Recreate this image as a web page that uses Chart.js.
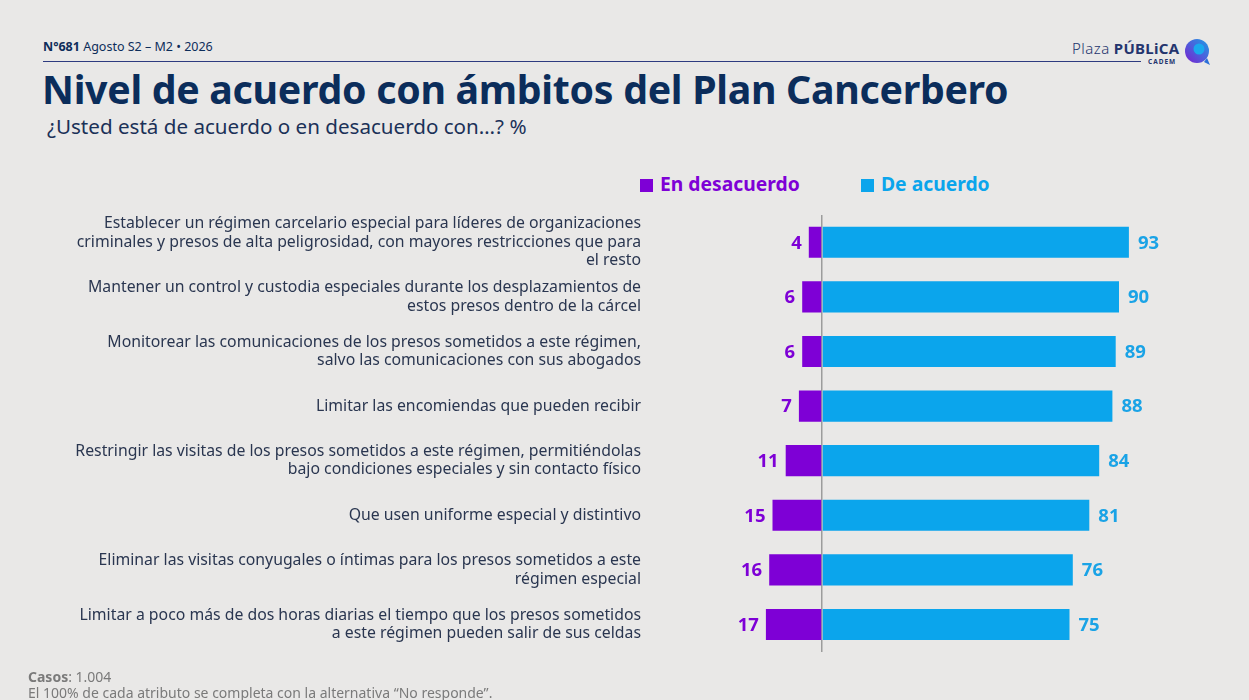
<!DOCTYPE html>
<html>
<head>
<meta charset="utf-8">
<script src="https://cdn.jsdelivr.net/npm/chart.js@4.4.1/dist/chart.umd.min.js"></script>
<style>
  html, body { margin:0; padding:0; }
  body { width:1249px; height:700px; background:#E9E8E7; position:relative; overflow:hidden; font-family:"Noto Sans", sans-serif; color:#0D2D5A; }
  .abs { position:absolute; white-space:nowrap; }
  #hdr { left:43px; top:38px; font-size:12.5px; color:#0D2D5A; }
  #hline { left:43px; top:61px; width:1098px; height:1px; background:#2E3B80; }
  #title { left:42px; top:62px; font-size:39.3px; font-weight:700; color:#0B2D5B; letter-spacing:-0.3px; }
  #sub { left:47px; top:112px; font-size:20.6px; color:#1B3158; }
  .leg { top:170px; font-size:19.3px; font-weight:700; }
  .sq { display:inline-block; width:13px; height:13px; margin-right:7px; vertical-align:-1px; }
  #foot1 { left:28px; top:667px; font-size:14px; color:#7A7A7A; }
  #foot2 { left:28px; top:683px; font-size:14px; color:#7A7A7A; }
  #logo { left:1072px; top:38px; font-size:15px; color:#24356E; }
  #cadem { left:1148px; top:57px; font-size:6.5px; font-weight:700; letter-spacing:1px; color:#24356E; }
  #wrap { position:absolute; left:0; top:200px; width:1249px; height:470px; }
</style>
</head>
<body>
<div class="abs" id="hdr"><b>N°681</b> Agosto S2 – M2 • 2026</div>
<div class="abs" id="hline"></div>
<div class="abs" id="logo"><span style="font-weight:300;letter-spacing:0.5px">Plaza</span> <b style="letter-spacing:0.3px">PÚBLiCA</b></div>
<div class="abs" id="cadem">CADEM</div>
<svg class="abs" style="left:1184px;top:38px" width="28" height="28" viewBox="0 0 28 28">
  <defs><linearGradient id="g" x1="0" y1="1" x2="1" y2="0"><stop offset="0" stop-color="#7B1FD0"/><stop offset="1" stop-color="#1E9FE6"/></linearGradient></defs>
  <circle cx="13" cy="13" r="12" fill="url(#g)"/>
  <path d="M20 24 L26 27 L23 20 Z" fill="#2A6FD8"/>
  <circle cx="15" cy="11" r="5.5" fill="#1AA8EE"/>
</svg>
<div class="abs" id="title">Nivel de acuerdo con ámbitos del Plan Cancerbero</div>
<div class="abs" id="sub">¿Usted está de acuerdo o en desacuerdo con…? %</div>
<div class="abs leg" style="left:640px;color:#7E00D6"><span class="sq" style="background:#7E00D6"></span>En desacuerdo</div>
<div class="abs leg" style="left:861px;color:#0BA5EC"><span class="sq" style="background:#0BA5EC"></span>De acuerdo</div>
<div id="wrap"><canvas id="c"></canvas></div>
<div class="abs" id="foot1"><b>Casos</b>: 1.004</div>
<div class="abs" id="foot2">El 100% de cada atributo se completa con la alternativa “No responde”.</div>
<script>
const categories = [
  ["Establecer un régimen carcelario especial para líderes de organizaciones", "criminales y presos de alta peligrosidad, con mayores restricciones que para", "el resto"],
  ["Mantener un control y custodia especiales durante los desplazamientos de", "estos presos dentro de la cárcel"],
  ["Monitorear las comunicaciones de los presos sometidos a este régimen,", "salvo las comunicaciones con sus abogados"],
  ["Limitar las encomiendas que pueden recibir"],
  ["Restringir las visitas de los presos sometidos a este régimen, permitiéndolas", "bajo condiciones especiales y sin contacto físico"],
  ["Que usen uniforme especial y distintivo"],
  ["Eliminar las visitas conyugales o íntimas para los presos sometidos a este", "régimen especial"],
  ["Limitar a poco más de dos horas diarias el tiempo que los presos sometidos", "a este régimen pueden salir de sus celdas"]
];
const enDesacuerdo = [4, 6, 6, 7, 11, 15, 16, 17];
const deAcuerdo = [93, 90, 89, 88, 84, 81, 76, 75];

const PURPLE = "#7E00D6", BLUE = "#0BA5EC";

const valueLabels = {
  id: "valueLabels",
  afterDatasetsDraw(chart) {
    const ctx = chart.ctx;
    ctx.save();
    ctx.font = "700 18.5px 'Noto Sans'";
    ctx.textBaseline = "middle";
    chart.data.datasets.forEach((ds, di) => {
      const meta = chart.getDatasetMeta(di);
      meta.data.forEach((bar, i) => {
        const raw = di === 0 ? enDesacuerdo[i] : deAcuerdo[i];
        if (di === 0) { ctx.fillStyle = PURPLE; ctx.textAlign = "right"; ctx.fillText(String(raw), bar.x - 7, bar.y + 1); }
        else { ctx.fillStyle = "#1AA3E6"; ctx.textAlign = "left"; ctx.fillText(String(raw), bar.x + 9, bar.y + 1); }
      });
    });
    ctx.restore();
  }
};

new Chart(document.getElementById("c"), {
  type: "bar",
  data: {
    labels: categories,
    datasets: [
      { label: "En desacuerdo", data: enDesacuerdo.map(v => -v), backgroundColor: PURPLE, barPercentage: 0.57, categoryPercentage: 1 },
      { label: "De acuerdo", data: deAcuerdo, backgroundColor: BLUE, barPercentage: 0.57, categoryPercentage: 1 }
    ]
  },
  options: {
    indexAxis: "y",
    responsive: true,
    maintainAspectRatio: false,
    animation: false,
    layout: { padding: { left: 0, right: 97, top: 15, bottom: 18.25 } },
    plugins: { legend: { display: false }, tooltip: { enabled: false } },
    scales: {
      x: {
        stacked: true, min: -30, max: 100,
        ticks: { display: false, stepSize: 10 },
        border: { display: false },
        grid: { drawTicks: false, lineWidth: 1.5, color: c => c.tick && c.tick.value === 0 ? "#9C9C9C" : "rgba(0,0,0,0)" },
        afterFit: s => { s.paddingLeft = 0; s.paddingRight = 0; s.height = 0; }
      },
      y: {
        stacked: true,
        border: { display: false },
        grid: { display: false, drawTicks: false },
        ticks: { autoSkip: false, padding: 82, color: "#2A3650", font: { family: "'Noto Sans'", size: 15.8, lineHeight: 1.16 } },
        afterFit: s => { s.width = 723; s.paddingTop = 0; s.paddingBottom = 0; }
      }
    }
  },
  plugins: [valueLabels]
});
</script>
</body>
</html>
